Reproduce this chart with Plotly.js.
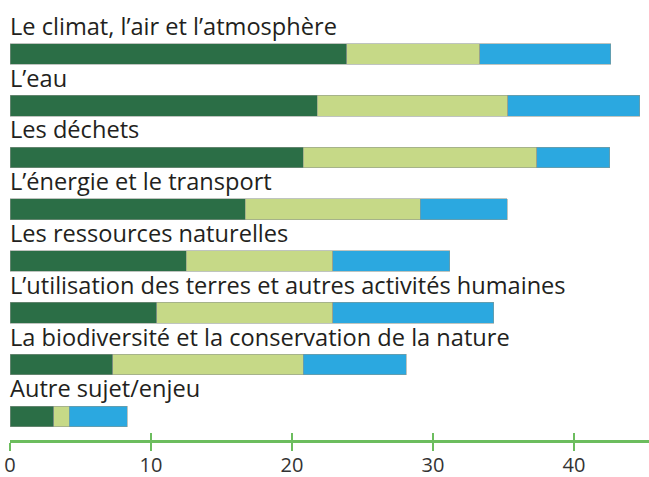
<!DOCTYPE html>
<html>
<head>
<meta charset="utf-8">
<script src="https://cdn.plot.ly/plotly-3.0.1.min.js"></script>
<style>html,body{margin:0;padding:0;background:#fff;}#chart{width:649px;height:477px;}</style>
</head>
<body>
<div id="chart"></div>
<script>
const categories = [
  "Le climat, l’air et l’atmosphère",
  "L’eau",
  "Les déchets",
  "L’énergie et le transport",
  "Les ressources naturelles",
  "L’utilisation des terres et autres activités humaines",
  "La biodiversité et la conservation de la nature",
  "Autre sujet/enjeu"
];
const darkValues  = [23.9, 21.8, 20.8, 16.7, 12.5, 10.4, 7.3, 3.1];
const lightValues = [9.4, 13.5, 16.55, 12.4, 10.4, 12.5, 13.5, 1.1];
const blueValues  = [9.3, 9.35, 5.2, 6.15, 8.3, 11.4, 7.3, 4.1];
const tickValues = [0, 10, 20, 30, 40];
const tickLabels = ["0", "10", "20", "30", "40"];

const xMax = 639 / 14.1;
const segLine = {color: "rgba(140,150,140,0.7)", width: 0.8};

const traces = [
  {type: "bar", orientation: "h", y: categories, x: darkValues, marker: {color: "#2b6e46", line: segLine}, hoverinfo: "none"},
  {type: "bar", orientation: "h", y: categories, x: lightValues, marker: {color: "#c6d987", line: segLine}, hoverinfo: "none"},
  {type: "bar", orientation: "h", y: categories, x: blueValues, marker: {color: "#2ba8e0", line: segLine}, hoverinfo: "none"},
  {type: "scatter", mode: "markers", x: [0], y: [categories[0]], xaxis: "x2", yaxis: "y", marker: {opacity: 0}, hoverinfo: "none", showlegend: false}
];

const annotations = categories.map(c => ({
  xref: "paper", yref: "y", x: 0, y: c, xanchor: "left", yanchor: "bottom",
  xshift: -2, yshift: 10, text: c, showarrow: false,
  font: {family: "Open Sans, sans-serif", size: 23.6, color: "#231f20"}
}));

const layout = {
  width: 649, height: 477,
  margin: {l: 10, r: 0, t: 28, b: 37, pad: 0},
  barmode: "stack", bargap: 0.6,
  showlegend: false,
  paper_bgcolor: "#ffffff", plot_bgcolor: "#ffffff",
  xaxis: {
    range: [0, xMax], showgrid: false, zeroline: false,
    showline: true, linecolor: "#6cbd5e", linewidth: 2.5,
    ticks: "outside", ticklen: 8, tickwidth: 2, tickcolor: "#6cbd5e",
    tickvals: tickValues, ticktext: tickLabels, ticklabelstandoff: -3,
    tickfont: {family: "Open Sans, sans-serif", size: 20, color: "#333333"}
  },
  xaxis2: {
    overlaying: "x", anchor: "y", side: "bottom", range: [0, xMax],
    showgrid: false, zeroline: false, showline: false,
    ticks: "inside", ticklen: 7, tickwidth: 2, tickcolor: "#6cbd5e",
    tickvals: tickValues, showticklabels: false
  },
  yaxis: {
    type: "category", categoryorder: "array", categoryarray: categories,
    range: [7.456, -0.5], showgrid: false, zeroline: false,
    showline: false, showticklabels: false, ticks: ""
  },
  annotations: annotations
};

Plotly.newPlot("chart", traces, layout, {staticPlot: true, displayModeBar: false});
</script>
</body>
</html>
